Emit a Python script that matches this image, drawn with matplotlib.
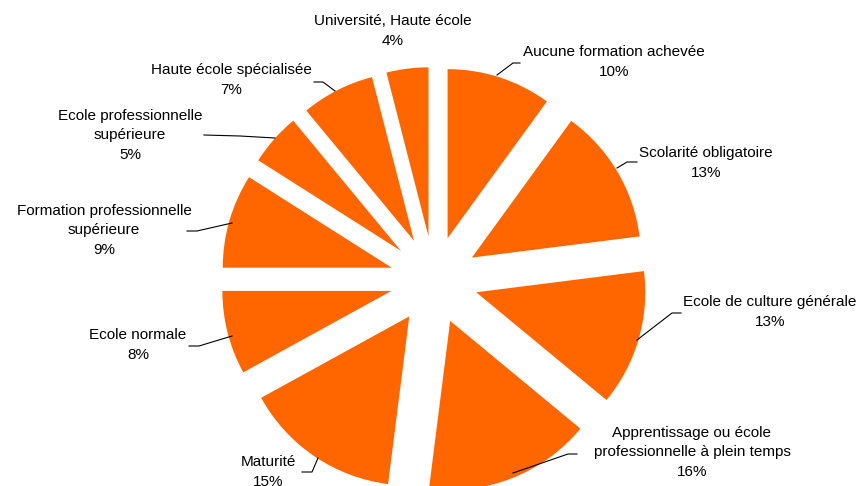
import numpy as np
import matplotlib.pyplot as plt

# Data (clockwise from 12 o'clock)
categories = [
    'Aucune formation achevée',
    'Scolarité obligatoire',
    'Ecole de culture générale',
    'Apprentissage ou école\nprofessionnelle à plein temps',
    'Maturité',
    'Ecole normale',
    'Formation professionnelle\nsupérieure',
    'Ecole professionnelle\nsupérieure',
    'Haute école spécialisée',
    'Université, Haute école',
]
shares = [10, 13, 13, 16, 15, 8, 9, 5, 7, 4]

# Label placement (pixel coords, y down) and leader lines
label_pos = [(614, 62), (706, 163), (770, 312), (692, 452), (268, 472),
             (138, 345), (104, 230), (130, 135), (231, 80), (393, 31)]
leaders = [
    [(497, 75), (513, 63), (520, 63)],
    [(617, 168), (627, 162), (637, 162)],
    [(637, 340), (672, 313), (681, 313)],
    [(513, 473), (568, 454), (577, 454)],
    [(318, 458), (312, 472), (302, 472)],
    [(232, 336), (199, 346), (189, 346)],
    [(232, 223), (197, 231), (187, 231)],
    [(275, 138), (240, 136), (204, 135)],
    [(335, 91), (323, 82), (314, 82)],
    None,
]

plt.rcParams['font.family'] = ['Liberation Sans', 'DejaVu Sans']

fig = plt.figure(figsize=(8.58, 4.86), dpi=100)
ax = fig.add_axes([0, 0, 1, 1])

# y axis inverted -> counterclock in data space is clockwise on screen
ax.pie(shares, startangle=-90, counterclock=True, colors=['#FF6600'] * len(shares),
       explode=[44] * len(shares), radius=169, center=(434, 280),
       wedgeprops=dict(linewidth=0), frame=True)

ax.set_xlim(0, 858)
ax.set_ylim(486, 0)
ax.set_aspect('equal')
ax.axis('off')

for cat, val, pos, ld in zip(categories, shares, label_pos, leaders):
    ax.text(pos[0], pos[1], f'{cat}\n{val}%', ha='center', va='center',
            fontsize=11, linespacing=1.5, color='black')
    if ld is not None:
        xs, ys = zip(*ld)
        ax.plot(xs, ys, color='black', lw=0.8)

fig.savefig('out.png', dpi=100)
